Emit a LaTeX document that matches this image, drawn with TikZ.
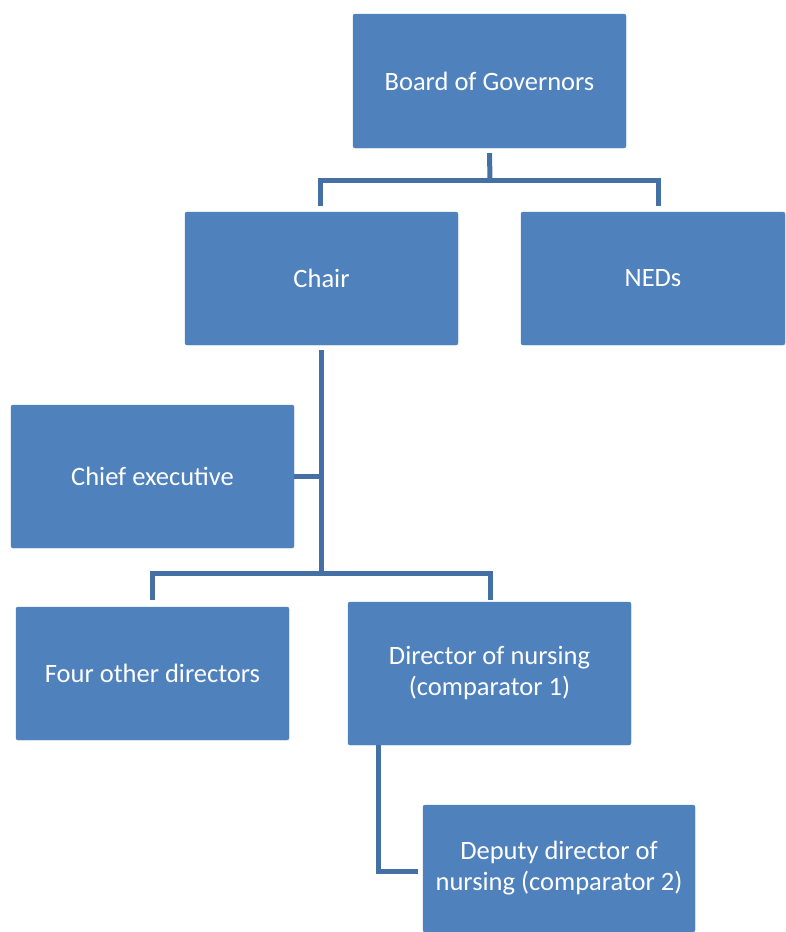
\documentclass[tikz,border=0pt]{standalone}
\usepackage{fontspec}
\setmainfont{Carlito}
\definecolor{boxfill}{HTML}{4F81BD}
\definecolor{linecol}{HTML}{4470A5}
\begin{document}
\begin{tikzpicture}[x=1pt,y=-1pt,
  orgbox/.style={fill=boxfill, draw=boxfill, rounded corners=2pt, text=white, align=center,
    font=\fontsize{26.5}{31}\selectfont, inner sep=0pt},
  conn/.style={draw=linecol, line width=5pt}]
\useasboundingbox (0,0) rectangle (785,932);
\fill[white] (0,0) rectangle (785,932);
\node[orgbox, minimum width=273pt, minimum height=134pt] (board) at (489.5,81) {Board of Governors};
\node[orgbox, minimum width=273pt, minimum height=133pt] (chair) at (321.5,278.5) {Chair};
\node[orgbox, minimum width=264pt, minimum height=133pt] (neds) at (653,278.5) {NEDs};
\node[orgbox, minimum width=283pt, minimum height=143pt] (ceo) at (152.5,476.5) {Chief executive};
\node[orgbox, minimum width=273pt, minimum height=133pt] (four) at (152.5,673.5) {Four other directors};
\node[orgbox, minimum width=283pt, minimum height=143pt] (don) at (489.5,673.5) {Director of nursing\\(comparator 1)};
\node[orgbox, minimum width=272pt, minimum height=127pt] (deputy) at (559,868.5) {Deputy director of\\nursing (comparator 2)};
% junction coordinates
\coordinate (j1) at (490,180);
\coordinate (j1l) at (320,206);
\coordinate (j1r) at (658,206);
\coordinate (j2) at (321,573);
\coordinate (j2l) at (152,600);
\coordinate (j2r) at (490,600);
\coordinate (j3) at (378,871);
% connectors
\draw[conn] ([yshift=-5pt]board.south) -- (j1);
\draw[conn] (j1l) |- (j1) -| (j1r);
\draw[conn] ([yshift=-5pt]chair.south -| j2) -- (j2);
\draw[conn] (ceo.east |- 0,476) -- (j2 |- 0,476);
\draw[conn] (j2l) |- (j2) -| (j2r);
\draw[conn] (don.south -| j3) -- (j3) -- ([xshift=-5pt]deputy.west |- j3);
\end{tikzpicture}
\end{document}
